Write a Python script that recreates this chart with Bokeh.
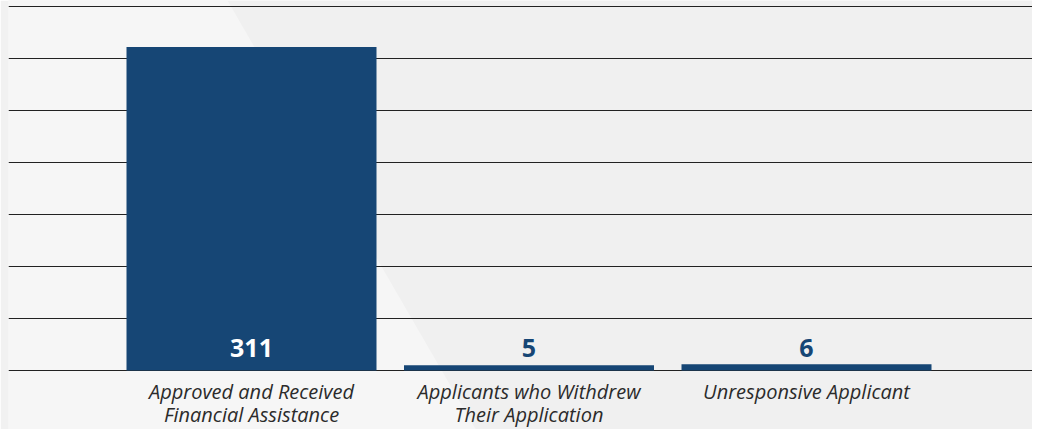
from bokeh.plotting import figure
from bokeh.models import ColumnDataSource, FixedTicker, PolyAnnotation
from bokeh.core.properties import value
from bokeh.embed import file_html
from bokeh.resources import INLINE

categories = ["Approved and Received\nFinancial Assistance",
              "Applicants who Withdrew\nTheir Application",
              "Unresponsive Applicant"]
counts = [311, 5, 6]
y_ticks = [0, 50, 100, 150, 200, 250, 300, 350]

BLUE = "#164675"
xs = list(range(len(categories)))
label_colors = ["#ffffff" if c > 50 else BLUE for c in counts]
labels = [str(c) for c in counts]
line1 = [c.split("\n")[0] for c in categories]
line2 = [(c.split("\n") + [""])[1] for c in categories]

src = ColumnDataSource(dict(x=xs, top=counts, lab=labels, col=label_colors,
                            l1=line1, l2=line2))

FW, FH = 1024, 429
PX_PER_UNIT = 1.04
unit = 277.5
x0 = -(251 - 8) / unit
y_end = y_ticks[-1] + 6 / PX_PER_UNIT
y_start = y_end - FH / PX_PER_UNIT
p = figure(frame_width=FW, frame_height=FH, output_backend="svg", toolbar_location=None,
           x_range=(x0, x0 + FW / unit), y_range=(y_start, y_end),
           min_border_left=8, min_border_right=0, min_border_top=0,
           min_border_bottom=0, x_axis_location=None, y_axis_location=None)
p.background_fill_color = "#f0f0f0"
p.border_fill_color = "#f1f1f1"
p.outline_line_color = None

# subtle diagonal lighter panel in the background
p.add_layout(PolyAnnotation(xs=[0, 227, 480, 0], ys=[0, 0, 437, 437],
                            xs_units="canvas", ys_units="canvas",
                            fill_color="#f6f6f6", fill_alpha=1.0,
                            line_color=None, level="image"))

p.vbar(x="x", top="top", bottom=0, width=250 / unit, source=src, color=BLUE,
       line_color=None)
p.text(x="x", y=0, text="lab", source=src, text_color="col",
       text_font=value("Open Sans"), text_font_style="bold",
       text_font_size="25px", text_align="center", text_baseline="middle",
       y_offset=-23)

for col, off in (("l1", 21), ("l2", 44)):
    p.text(x="x", y=0, text=col, source=src, text_color="#2b2b2b",
           text_font=value("Open Sans"), text_font_style="italic",
           text_font_size="20px", text_align="center", text_baseline="middle",
           y_offset=off)

p.ygrid.ticker = FixedTicker(ticks=y_ticks)
p.ygrid.grid_line_color = "#222222"
p.ygrid.grid_line_width = 1
p.xgrid.visible = False

open("out.html", "w").write(file_html(p, INLINE))
